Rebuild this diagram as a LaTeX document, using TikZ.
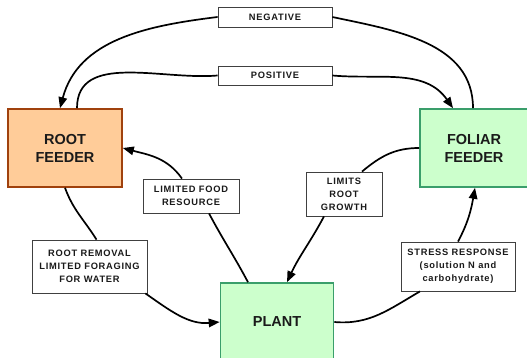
\documentclass[tikz,border=0pt]{standalone}
\usepackage{fontspec}
\setmainfont{Liberation Sans}
\newfontfamily\lblfont[LetterSpace=8]{Liberation Sans}
\usetikzlibrary{arrows.meta}
\definecolor{rootfill}{HTML}{FFCC99}
\definecolor{rootdraw}{HTML}{A0410D}
\definecolor{greenfill}{HTML}{CCFFCC}
\definecolor{greendraw}{HTML}{3A9E6B}
\definecolor{lbldraw}{HTML}{404040}
\definecolor{txt}{HTML}{1A1A1A}
\tikzset{
  mainbox/.style={draw, line width=1.6pt, minimum width=#1, minimum height=78pt, inner sep=0pt, align=center, text=txt, font=\fontsize{14.5}{18}\selectfont\bfseries},
  rootbox/.style={mainbox=114pt, fill=rootfill, draw=rootdraw},
  greenbox/.style={fill=greenfill, draw=greendraw},
  lbl/.style={draw=lbldraw, fill=white, line width=0.8pt, inner sep=0pt, align=center, text=txt, font=\lblfont\fontsize{9.3}{13}\selectfont\bfseries},
  conn/.style={line width=1.7pt},
  arr/.style={conn, -{Triangle[length=11pt,width=8.5pt]}}
}
\begin{document}
\begin{tikzpicture}[x=1pt,y=1pt]
\path[use as bounding box, clip] (0,0) rectangle (527,357);
\node[rootbox] (root) at (65,209) {ROOT\\FEEDER};
\node[mainbox=108pt, greenbox] (foliar) at (474,209) {FOLIAR\\FEEDER};
\node[mainbox=113pt, greenbox] (plant) at (277,35) {PLANT};
\node[lbl, minimum width=114pt, minimum height=20pt] (neg) at (275,340) {NEGATIVE};
\node[lbl, minimum width=114pt, minimum height=19pt] (pos) at (275,281.5) {POSITIVE};
\node[lbl, minimum width=96pt, minimum height=34pt] (lfr) at (191,161) {LIMITED FOOD\\RESOURCE};
\node[lbl, minimum width=115pt, minimum height=53pt] (rr) at (89.5,90.5) {ROOT REMOVAL\\LIMITED FORAGING\\FOR WATER};
\node[lbl, minimum width=76pt, minimum height=44pt] (lrg) at (344,163) {LIMITS\\ROOT\\GROWTH};
\node[lbl, minimum width=114pt, minimum height=49pt] (sr) at (458,90.5) {STRESS RESPONSE\\(solution N and\\carbohydrate)};
% negative
\draw[conn] ([xshift=-1pt]foliar.north) to[out=90, in=-12] (neg.east);
\draw[arr] (neg.west) to[out=187, in=75] ([xshift=-5pt]root.north);
% positive
\draw[conn] ([xshift=12pt]root.north) to[out=90, in=185] (pos.west);
\draw[arr] (pos.east) to[out=-5, in=125] ([xshift=-21pt]foliar.north);
% limited food resource
\draw[conn] ([xshift=-29pt]plant.north) to[out=118, in=-62] ([xshift=18pt]lfr.south);
\draw[arr] ([xshift=-9pt]lfr.north) to[out=125, in=-15] (root.east);
% root removal
\draw[conn] (root.south) to[out=-70, in=122] ([xshift=7pt]rr.north);
\draw[arr] ([xshift=-2pt]rr.south east) to[out=-35, in=185] (plant.west);
% limits root growth
\draw[conn] (foliar.west) to[out=180, in=40] ([xshift=18pt]lrg.north);
\draw[arr] ([xshift=-20pt]lrg.south) to[out=-118, in=65] ([xshift=10pt]plant.north);
% stress response
\draw[conn] (plant.east) to[out=-5, in=-150] ([xshift=-38pt]sr.south);
\draw[arr] (sr.north) to[out=62, in=-100] ([xshift=1pt]foliar.south);
\end{tikzpicture}
\end{document}
